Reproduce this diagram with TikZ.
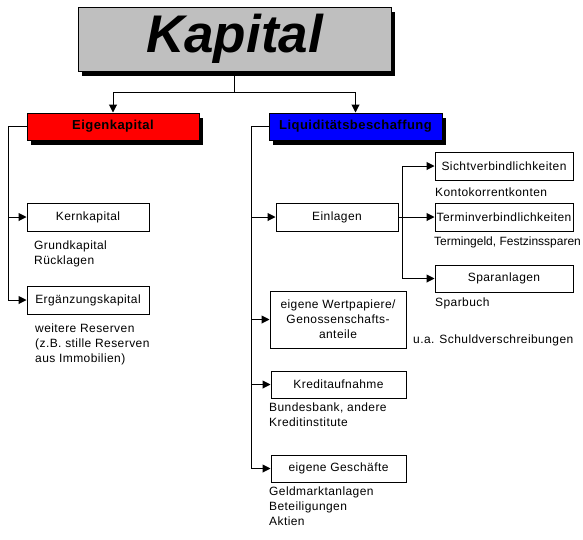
\documentclass[tikz,border=0pt]{standalone}
\usepackage{fontspec}
\setmainfont{Liberation Sans}
\newfontfamily\spacedfont{Liberation Sans}[LetterSpace=3.5]
\usetikzlibrary{arrows.meta,shadows}
\tikzset{
	box/.style={draw, line width=1pt, fill=white, inner sep=0pt, minimum height=28pt, font=\spacedfont\fontsize{12}{15}\selectfont},
	head/.style={box, minimum height=27pt, drop shadow={shadow xshift=4pt, shadow yshift=-5pt, fill=black, opacity=1}, font=\spacedfont\fontsize{13}{15}\selectfont\bfseries},
	arr/.style={-{Triangle[length=8pt,width=8pt]}, line width=1pt},
	note/.style={anchor=north west, align=left, inner sep=0pt, font=\spacedfont\fontsize{12}{15}\selectfont}
}
\begin{document}
\begin{tikzpicture}[x=1pt, y=-1pt]
			%%%%% START %%%%%
			\useasboundingbox (0, 0) rectangle (583, 539);
			
			\node[head, fill=black!25, minimum width=313pt, minimum height=64pt, font=\fontsize{53}{60}\selectfont\bfseries\itshape] (kap) at (234.5, 39) {Kapital};
			
			\node[head, fill=red, minimum width=172pt] (eigen) at (113, 126.5) {Eigenkapital};
			\node[head, fill=blue, minimum width=173pt] (liq) at (355.5, 126.5) {Liquiditätsbeschaffung};
			
			\coordinate (split) at (234.5, 92);
			\coordinate (lbus) at (8, 0);
			\coordinate (rbus) at (251.5, 0);
			\coordinate (ebus) at (402, 0);
			
			% Eigenkapital
			\node[box, minimum width=122pt] (kern) at (88, 217) {Kernkapital};
			\node[box, minimum width=122pt] (erg) at (88, 300) {Ergänzungskapital};
			\node[note] (grund) at (34, 241) {Grundkapital\\Rücklagen};
			\node[note] (weitere) at (35, 324) {weitere Reserven\\(z.B. stille Reserven\\aus Immobilien)};
			
			% Liquiditaetsbeschaffung
			\node[box, minimum width=122pt] (einl) at (337, 217) {Einlagen};
			\node[box, minimum width=138pt] (sicht) at (504, 166) {Sichtverbindlichkeiten};
			\node[box, minimum width=138pt] (termin) at (504, 217) {Terminverbindlichkeiten};
			\node[box, minimum width=138pt, minimum height=27pt] (spar) at (504, 278.5) {Sparanlagen};
			\node[note] (konto) at (435, 188) {Kontokorrentkonten};
			\node[note, font=\fontsize{12}{15}\selectfont] (termtxt) at (434, 237) {Termingeld, Festzinssparen};
			\node[note] (sparbuch) at (435, 298) {Sparbuch};
			
			\node[box, minimum width=136pt, minimum height=57pt, align=center] (wert) at (338, 319.5) {eigene Wertpapiere/\\Genossenschafts-\\anteile};
			\node[note] (schuld) at (413, 335) {u.a. Schuldverschreibungen};
			\node[box, minimum width=135pt, minimum height=27pt] (kredit) at (338.5, 384.5) {Kreditaufnahme};
			\node[note] (bund) at (269, 403) {Bundesbank, andere\\Kreditinstitute};
			\node[box, minimum width=135pt, minimum height=27pt] (gesch) at (338.5, 468.5) {eigene Geschäfte};
			\node[note] (geld) at (269, 487) {Geldmarktanlagen\\Beteiligungen\\Aktien};
			
			% connectors
			\draw[line width=1pt] (kap.south) -- (split);
			\draw[arr] (split) -| (eigen.north);
			\draw[arr] (split) -| (liq.north);
			
			\draw[arr] (eigen.west) -| (lbus |- kern.west) -- (kern.west);
			\draw[arr] (eigen.west) -| (lbus |- erg.west) -- (erg.west);
			
			\draw[arr] (liq.west) -| (rbus |- einl.west) -- (einl.west);
			\draw[arr] (liq.west) -| (rbus |- wert.west) -- (wert.west);
			\draw[arr] (liq.west) -| (rbus |- kredit.west) -- (kredit.west);
			\draw[arr] (liq.west) -| (rbus |- gesch.west) -- (gesch.west);
			
			\draw[arr] (einl.east) -| (ebus |- sicht.west) -- (sicht.west);
			\draw[arr] (einl.east) -- (termin.west);
			\draw[arr] (einl.east) -| (ebus |- spar.west) -- (spar.west);
			%%%%% END %%%%%
\end{tikzpicture}
\end{document}
